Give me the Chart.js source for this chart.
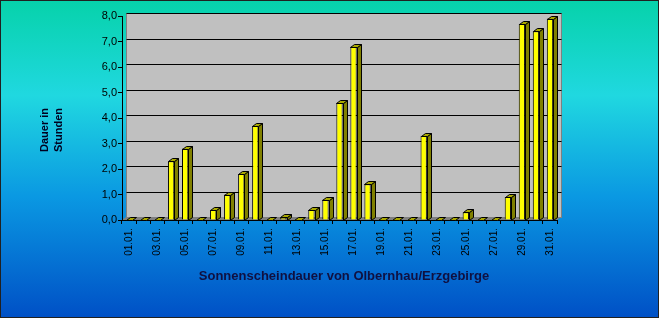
<!DOCTYPE html>
<html>
<head>
<meta charset="utf-8">
<script src="https://cdn.jsdelivr.net/npm/chart.js@4/dist/chart.umd.min.js"></script>
<style>
  html, body { margin: 0; padding: 0; background: #fff; }
  #wrap { width: 659px; height: 318px; }
</style>
</head>
<body>
<div id="wrap"><canvas id="c" width="659" height="318"></canvas></div>
<script>
const categories = ['01.01.','02.01.','03.01.','04.01.','05.01.','06.01.','07.01.','08.01.','09.01.','10.01.',
  '11.01.','12.01.','13.01.','14.01.','15.01.','16.01.','17.01.','18.01.','19.01.','20.01.',
  '21.01.','22.01.','23.01.','24.01.','25.01.','26.01.','27.01.','28.01.','29.01.','30.01.','31.01.'];
const sunshineHours = [0,0,0,2.3,2.8,0,0.4,1.0,1.8,3.7,0,0.1,0,0.4,0.8,4.6,6.8,1.4,0,0,0,3.3,0,0,0.3,0,0,0.9,7.7,7.4,7.9];
const yTicks = [0,1,2,3,4,5,6,7,8];
const chartTitle = 'Sonnenscheindauer von Olbernhau/Erzgebirge';
const yTitle = ['Dauer in', 'Stunden'];

const DX = 4, DY = -3;

const deco = {
  id: 'deco',
  beforeDraw(chart) {
    const {ctx, chartArea: ca, width, height} = chart;
    ctx.save();
    const g = ctx.createLinearGradient(0, 0, 0, height);
    g.addColorStop(0, '#06d2aa');
    g.addColorStop(0.3, '#20d8e0');
    g.addColorStop(0.62, '#0a98e2');
    g.addColorStop(1, '#0050c6');
    ctx.fillStyle = g;
    ctx.fillRect(0, 0, width, height);
    // back wall
    const wl = Math.round(ca.left + DX) + 0.5, wr = Math.round(ca.right + DX) + 0.5;
    const wt = Math.round(ca.top + DY) + 0.5, wb = Math.round(ca.bottom + DY) + 0.5;
    ctx.fillStyle = '#c0c0c0';
    ctx.fillRect(wl, wt, wr - wl, wb - wt);
    ctx.strokeStyle = '#808080';
    ctx.lineWidth = 1;
    ctx.strokeRect(wl, wt, wr - wl, wb - wt);
    // floor
    ctx.fillStyle = '#808080';
    ctx.beginPath();
    ctx.moveTo(ca.left, ca.bottom);
    ctx.lineTo(ca.right, ca.bottom);
    ctx.lineTo(ca.right + DX, ca.bottom + DY);
    ctx.lineTo(ca.left + DX, ca.bottom + DY);
    ctx.closePath();
    ctx.fill();
    // gridlines on back wall
    const ys = chart.scales.y;
    ctx.strokeStyle = '#000';
    ctx.lineWidth = 1;
    yTicks.forEach(v => {
      if (v === 0) return;
      const y = Math.round(ys.getPixelForValue(v) + DY) + 0.5;
      ctx.beginPath();
      ctx.moveTo(wl, y);
      ctx.lineTo(wr, y);
      ctx.stroke();
    });
    ctx.restore();
  },
  afterDatasetsDraw(chart) {
    const {ctx} = chart;
    const meta = chart.getDatasetMeta(0);
    ctx.save();
    ctx.lineWidth = 1;
    ctx.strokeStyle = '#000';
    meta.data.forEach(bar => {
      const {x, y, width, base} = bar.getProps(['x','y','width','base'], true);
      const l = Math.round(x - width / 2) + 0.5, r = Math.round(x + width / 2) + 0.5;
      const t = Math.round(y) + 0.5, b = Math.round(base) + 0.5;
      // side
      if (b - t > 0.6) {
        ctx.fillStyle = '#808000';
        ctx.beginPath();
        ctx.moveTo(r, t); ctx.lineTo(r + DX, t + DY); ctx.lineTo(r + DX, b + DY); ctx.lineTo(r, b);
        ctx.closePath(); ctx.fill(); ctx.stroke();
      }
      // top
      ctx.fillStyle = '#a8a800';
      ctx.beginPath();
      ctx.moveTo(l, t); ctx.lineTo(l + DX, t + DY); ctx.lineTo(r + DX, t + DY); ctx.lineTo(r, t);
      ctx.closePath(); ctx.fill(); ctx.stroke();
    });
    ctx.restore();
  },
  afterDraw(chart) {
    const {ctx, width, height} = chart;
    ctx.save();
    // titles
    ctx.fillStyle = '#000020';
    ctx.font = 'bold 11px "Liberation Sans", Arial, sans-serif';
    ctx.textAlign = 'center';
    ctx.textBaseline = 'middle';
    ctx.save();
    ctx.translate(45, 130);
    ctx.rotate(-Math.PI / 2);
    ctx.fillText(yTitle[0], 0, 0);
    ctx.restore();
    ctx.save();
    ctx.translate(59, 130);
    ctx.rotate(-Math.PI / 2);
    ctx.fillText(yTitle[1], 0, 0);
    ctx.restore();
    ctx.fillStyle = '#101040';
    ctx.font = 'bold 13px "Liberation Sans", Arial, sans-serif';
    ctx.fillText(chartTitle, 344, 276);
    // outer border
    ctx.strokeStyle = '#202020';
    ctx.lineWidth = 1;
    ctx.strokeRect(0.5, 0.5, width - 1, height - 1);
    ctx.restore();
  }
};

new Chart(document.getElementById('c'), {
  type: 'bar',
  data: {
    labels: categories,
    datasets: [{
      data: sunshineHours,
      backgroundColor: '#ffff00',
      borderColor: '#000000',
      borderWidth: 1,
      borderSkipped: 'start',
      barPercentage: 0.45,
      categoryPercentage: 1.0
    }]
  },
  options: {
    responsive: false,
    animation: false,
    devicePixelRatio: 1,
    layout: { padding: { left: 0, top: 16, right: 102, bottom: 0 } },
    plugins: { legend: { display: false }, title: { display: false }, tooltip: { enabled: false } },
    scales: {
      x: {
        offset: true,
        afterFit(s) { s.height = 98; },
        grid: { display: true, drawOnChartArea: false, drawTicks: true, tickLength: 4, color: '#000', offset: true },
        border: { display: true, color: '#000', width: 1 },
        ticks: {
          autoSkip: false, maxRotation: 90, minRotation: 90, padding: 4,
          color: '#000',
          font: { family: '"Liberation Sans", Arial, sans-serif', size: 10 },
          callback(v, i) { return i % 2 === 0 ? categories[i] : ''; }
        }
      },
      y: {
        min: 0, max: 8,
        afterFit(s) { s.width = 122; },
        grid: { display: true, drawOnChartArea: false, drawTicks: true, tickLength: 4, color: '#000' },
        border: { display: true, color: '#000', width: 1 },
        ticks: {
          stepSize: 1, padding: 1, color: '#000',
          font: { family: '"Liberation Sans", Arial, sans-serif', size: 11 },
          callback(v) { return v.toFixed(1).replace('.', ','); }
        }
      }
    }
  },
  plugins: [deco]
});
</script>
</body>
</html>
